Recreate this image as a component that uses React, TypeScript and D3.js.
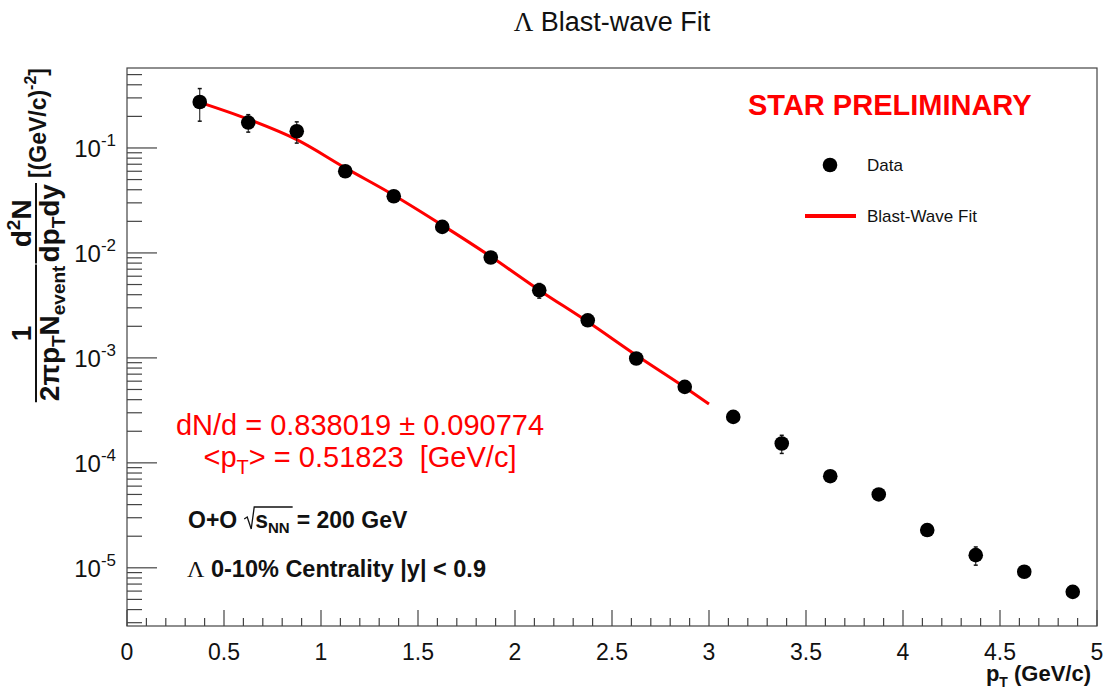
import React, { useMemo } from 'react';
import * as d3 from 'd3';

// ---- data ----
const pTValues = [0.375, 0.625, 0.875, 1.125, 1.375, 1.625, 1.875, 2.125, 2.375, 2.625, 2.875, 3.125, 3.375, 3.625, 3.875, 4.125, 4.375, 4.625, 4.875];
const dataYield = [0.274, 0.1746, 0.1443, 0.060, 0.0347, 0.0177, 0.00904, 0.00441, 0.00228, 0.000987, 0.00053, 0.000274, 0.000153, 7.46e-5, 5.0e-5, 2.29e-5, 1.32e-5, 9.17e-6, 5.9e-6];
const dataErr = [0.094, 0.033, 0.033, 0.005, 0.003, 0.0012, 0.0007, 0.0007, 0.00018, 0.00007, 0.00004, 0.00002, 0.00003, 5e-6, 3e-6, 1.5e-6, 2.6e-6, 7e-7, 4e-7];
const fitPT = [0.375, 0.625, 0.875, 1.125, 1.375, 1.625, 1.875, 2.125, 2.375, 2.625, 2.875, 3.0];
const fitYield = [0.272, 0.188, 0.120, 0.0646, 0.0355, 0.0184, 0.00923, 0.00442, 0.00221, 0.00106, 0.000525, 0.000363];
const xTickValues = [0, 0.5, 1, 1.5, 2, 2.5, 3, 3.5, 4, 4.5, 5];
const xTickLabels = ['0', '0.5', '1', '1.5', '2', '2.5', '3', '3.5', '4', '4.5', '5'];
const yDecadeExps = [-1, -2, -3, -4, -5];
const xDomain = [0, 5];
const yDomain = [2.79e-6, 0.578];

const W = 1107, H = 690;
const FRAME = { l: 127, r: 1097, t: 68, b: 626 };
const RED = '#ff0000';
const SANS = '"Liberation Sans", Arial, Helvetica, sans-serif';
const SERIF = '"Liberation Serif", "Times New Roman", serif';

let _ctx: CanvasRenderingContext2D | null = null;
function tw(text: string, size: number, weight = 'normal', family = SANS) {
  if (!_ctx) _ctx = document.createElement('canvas').getContext('2d');
  if (!_ctx) return text.length * size * 0.55;
  _ctx.font = `${weight} ${size}px ${family}`;
  return _ctx.measureText(text).width;
}

export default function App() {
  const x = d3.scaleLinear().domain(xDomain).range([FRAME.l, FRAME.r]);
  const y = d3.scaleLog().domain(yDomain).range([FRAME.b, FRAME.t]);

  const minorX = d3.range(0, 50).map(i => i / 10).filter(v => Math.abs(v * 2 - Math.round(v * 2)) > 1e-6);
  const minorY: number[] = [];
  for (let e = -6; e <= 0; e++) for (let m = 2; m <= 9; m++) {
    const v = m * Math.pow(10, e);
    if (v >= yDomain[0] && v <= yDomain[1]) minorY.push(v);
  }

  const fitLine = d3.line<number>()
    .x((_, i) => x(fitPT[i]))
    .y((d) => y(d))
    .curve(d3.curveMonotoneX)(fitYield) || '';

  // y-axis title layout (rotated)
  const yTitle = useMemo(() => {
    const fs = 28, ss = 19;
    const pieces: { t: string; size: number; x: number; dy: number }[] = [];
    let cx = 0;
    const add = (t: string, size: number, dy: number) => {
      const w = tw(t, size, 'bold');
      pieces.push({ t, size, x: cx, dy });
      cx += w;
    };
    const d1s = cx;
    add('2\u03C0p', fs, 0); add('T', ss, 6); add('N', fs, 0); add('event', ss, 6);
    const d1e = cx;
    cx += 3;
    const d2s = cx;
    add('dp', fs, 0); add('T', ss, 6); add('dy', fs, 0);
    const d2e = cx;
    cx += 6;
    const unitPieces: { t: string; size: number; x: number; dy: number }[] = [];
    const addU = (t: string, size: number, dy: number) => {
      const w = tw(t, size, 'bold');
      unitPieces.push({ t, size, x: cx, dy });
      cx += w;
    };
    addU('[(GeV/c)', 23, 0); addU('-2', 16, -10); addU(']', 23, 0);
    const total = cx;
    const oneW = tw('1', fs, 'bold');
    const dW = tw('d', fs, 'bold'), twoW = tw('2', ss, 'bold'), nW = tw('N', fs, 'bold');
    const num2W = dW + twoW + nW;
    const n1x = (d1s + d1e) / 2 - oneW / 2;
    const n2x = (d2s + d2e) / 2 - num2W / 2;
    return { pieces, unitPieces, total, d1s, d1e, d2s, d2e, n1x, n2x, dW, twoW, fs, ss };
  }, []);

  const barX = 36;
  const bottomY = FRAME.t + yTitle.total;

  // O+O line layout
  const ooSize = 23;
  const ooX = 188, ooY = 528;
  const ooW = tw('O+O', ooSize, 'bold');
  const radX = ooX + ooW + 7;
  const sX = radX + 11;
  const sW = tw('s', ooSize, 'bold');
  const nnW = tw('NN', 15, 'bold');
  const eqX = sX + sW + nnW + 7;

  const lamW = tw('\u039B', 24, 'normal', SERIF);

  const xtW1 = tw('p', 22, 'bold');
  const xtW2 = tw('T', 14, 'bold');
  const xtW3 = tw(' (GeV/c)', 22, 'bold');
  const xtEnd = 1091;
  const xtStart = xtEnd - (xtW1 + xtW2 + xtW3);

  return (
    <svg width={W} height={H} style={{ position: 'absolute', left: 0, top: 0, background: '#fff' }}
      fontFamily={SANS}>
      <rect x={0} y={0} width={W} height={H} fill="#fff" />
      {/* title */}
      <text x={612} y={31} textAnchor="middle" fontSize={27} fill="#111">
        <tspan fontFamily={SERIF}>{'\u039B'}</tspan>
        <tspan> Blast-wave Fit</tspan>
      </text>

      {/* frame */}
      <rect x={FRAME.l} y={FRAME.t} width={FRAME.r - FRAME.l} height={FRAME.b - FRAME.t}
        fill="none" stroke="#444" strokeWidth={1.2} />

      {/* x ticks */}
      {xTickValues.map(v => (
        <line key={'xM' + v} x1={x(v)} x2={x(v)} y1={FRAME.b} y2={FRAME.b - 16} stroke="#444" strokeWidth={1.2} />
      ))}
      {minorX.map(v => (
        <line key={'xm' + v} x1={x(v)} x2={x(v)} y1={FRAME.b} y2={FRAME.b - 8} stroke="#444" strokeWidth={1.2} />
      ))}
      {xTickValues.map((v, i) => (
        <text key={'xl' + v} x={x(v)} y={660} textAnchor="middle" fontSize={23} fill="#111">{xTickLabels[i]}</text>
      ))}

      {/* y ticks */}
      {yDecadeExps.map(e => (
        <line key={'yM' + e} x1={FRAME.l} x2={FRAME.l + 30} y1={y(Math.pow(10, e))} y2={y(Math.pow(10, e))} stroke="#444" strokeWidth={1.2} />
      ))}
      {minorY.map(v => (
        <line key={'ym' + v} x1={FRAME.l} x2={FRAME.l + 15} y1={y(v)} y2={y(v)} stroke="#444" strokeWidth={1.2} />
      ))}
      {yDecadeExps.map(e => (
        <text key={'yl' + e} x={116} y={y(Math.pow(10, e)) + 9} textAnchor="end" fontSize={24} fill="#111">
          10<tspan fontSize={17} dy={-11}>{'-' + Math.abs(e)}</tspan>
        </text>
      ))}

      {/* y title */}
      <g transform={`translate(${barX}, ${bottomY}) rotate(-90)`} fontWeight="bold" fill="#111">
        <line x1={yTitle.d1s - 1} x2={yTitle.d1e + 1} y1={0} y2={0} stroke="#111" strokeWidth={2} />
        <line x1={yTitle.d2s - 1} x2={yTitle.d2e + 1} y1={0} y2={0} stroke="#111" strokeWidth={2} />
        {yTitle.pieces.map((p, i) => (
          <text key={'yt' + i} x={p.x} y={23 + p.dy} fontSize={p.size}>{p.t}</text>
        ))}
        {yTitle.unitPieces.map((p, i) => (
          <text key={'yu' + i} x={p.x} y={10 + p.dy} fontSize={p.size}>{p.t}</text>
        ))}
        <text x={yTitle.n1x} y={-5} fontSize={yTitle.fs}>1</text>
        <text x={yTitle.n2x} y={-5} fontSize={yTitle.fs}>d</text>
        <text x={yTitle.n2x + yTitle.dW} y={-16} fontSize={yTitle.ss}>2</text>
        <text x={yTitle.n2x + yTitle.dW + yTitle.twoW} y={-5} fontSize={yTitle.fs}>N</text>
      </g>

      {/* x title */}
      <g fontWeight="bold" fill="#111">
        <text x={xtStart} y={681} fontSize={22}>p</text>
        <text x={xtStart + xtW1} y={687} fontSize={14}>T</text>
        <text x={xtStart + xtW1 + xtW2} y={681} fontSize={22} style={{ whiteSpace: 'pre' }}>{' (GeV/c)'}</text>
      </g>

      {/* fit */}
      <path d={fitLine} fill="none" stroke={RED} strokeWidth={3} />

      {/* error bars + points */}
      {pTValues.map((p, i) => {
        const cx = x(p);
        const yHi = y(dataYield[i] + dataErr[i]);
        const yLo = y(Math.max(dataYield[i] - dataErr[i], yDomain[0]));
        return (
          <g key={'pt' + i}>
            <line x1={cx} x2={cx} y1={yHi} y2={yLo} stroke="#111" strokeWidth={1} />
            <line x1={cx - 2} x2={cx + 2} y1={yHi} y2={yHi} stroke="#111" strokeWidth={1.5} />
            <line x1={cx - 2} x2={cx + 2} y1={yLo} y2={yLo} stroke="#111" strokeWidth={1.5} />
            <circle cx={cx} cy={y(dataYield[i])} r={7.3} fill="#000" />
          </g>
        );
      })}

      {/* STAR PRELIMINARY + legend */}
      <text x={748} y={115} fontSize={29} fontWeight="bold" fill={RED}>STAR PRELIMINARY</text>
      <circle cx={830} cy={165} r={7.3} fill="#000" />
      <text x={867} y={171} fontSize={17} fill="#111">Data</text>
      <line x1={805} x2={856} y1={216} y2={216} stroke={RED} strokeWidth={4} />
      <text x={867} y={222} fontSize={17} fill="#111">Blast-Wave Fit</text>

      {/* fit results */}
      <text x={360} y={435} textAnchor="middle" fontSize={29} fill={RED}>dN/d = 0.838019 ± 0.090774</text>
      <text x={360} y={467} textAnchor="middle" fontSize={29} fill={RED} style={{ whiteSpace: 'pre' }}>
        {'<p'}<tspan fontSize={20} dy={7}>T</tspan><tspan dy={-7}>{'> = 0.51823  [GeV/c]'}</tspan>
      </text>

      {/* system labels */}
      <g fontWeight="bold" fill="#111">
        <text x={ooX} y={ooY} fontSize={ooSize}>O+O</text>
        <path d={`M${radX},${ooY - 9} L${radX + 3},${ooY - 11} L${radX + 7},${ooY + 1} L${radX + 10},${ooY - 21} L${eqX - 4},${ooY - 21}`}
          fill="none" stroke="#111" strokeWidth={1.3} />
        <text x={sX} y={ooY} fontSize={ooSize}>s</text>
        <text x={sX + sW} y={ooY + 5} fontSize={15}>NN</text>
        <text x={eqX} y={ooY} fontSize={ooSize} style={{ whiteSpace: 'pre' }}>{'= 200 GeV'}</text>
        <text x={187} y={577} fontSize={24} fontFamily={SERIF} fontWeight="normal">{'\u039B'}</text>
        <text x={187 + lamW} y={577} fontSize={23.5} style={{ whiteSpace: 'pre' }}>{' 0-10% Centrality |y| < 0.9'}</text>
      </g>
    </svg>
  );
}
